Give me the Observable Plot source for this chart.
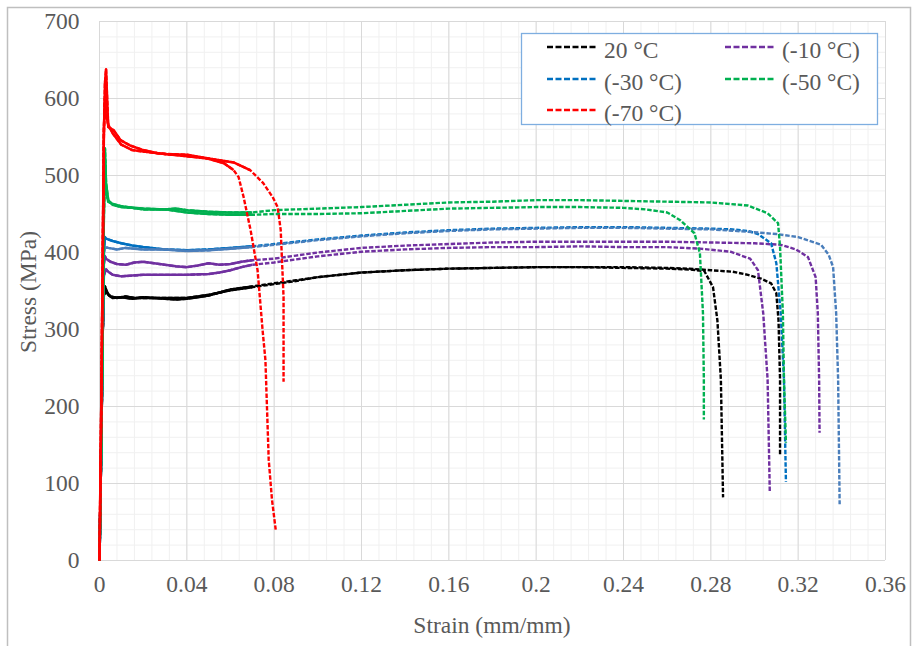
<!DOCTYPE html>
<html>
<head>
<meta charset="utf-8">
<script src="https://cdn.jsdelivr.net/npm/d3@7"></script>
<script src="https://cdn.jsdelivr.net/npm/@observablehq/plot@0.6"></script>
<style>
  html, body { margin: 0; padding: 0; background: #ffffff; }
  #chart { width: 915px; height: 646px; overflow: hidden; }
</style>
</head>
<body>
<div id="chart"></div>
<script>
// ---------- data ----------
const xTicks = [0, 0.04, 0.08, 0.12, 0.16, 0.2, 0.24, 0.28, 0.32, 0.36];
const xTickLabels = ["0", "0.04", "0.08", "0.12", "0.16", "0.2", "0.24", "0.28", "0.32", "0.36"];
const yTicks = [0, 100, 200, 300, 400, 500, 600, 700];
const yTickLabels = ["0", "100", "200", "300", "400", "500", "600", "700"];

const legendLabels = ["20 °C", "(-10 °C)", "(-30 °C)", "(-50 °C)", "(-70 °C)"];

const black1 = [[0,0],[0.0008,150],[0.0015,300],[0.002,350],[0.0025,356],[0.003,352],[0.004,345],[0.006,341],[0.01,342],[0.015,340],[0.02,342],[0.025,341],[0.03,340],[0.035,339],[0.04,340],[0.045,342],[0.05,344],[0.055,348],[0.06,351],[0.07,355],[0.08,359],[0.09,363],[0.1,368],[0.12,374],[0.14,377],[0.16,379],[0.18,380],[0.2,381],[0.22,381],[0.24,380],[0.26,379],[0.27,378],[0.277,376],[0.281,355],[0.283,312],[0.2846,235],[0.2856,82]];
const black2 = [[0,0],[0.0008,150],[0.0015,300],[0.002,345],[0.003,349],[0.005,343],[0.008,341],[0.012,343],[0.016,341],[0.02,341],[0.03,341],[0.04,341],[0.045,343],[0.05,345],[0.055,348],[0.06,352],[0.07,356],[0.08,360],[0.09,364],[0.1,368],[0.12,374],[0.14,377],[0.16,379],[0.18,380],[0.2,381],[0.22,381],[0.24,381],[0.26,380],[0.27,379],[0.28,377],[0.29,375],[0.297,371],[0.303,366],[0.3076,360],[0.31,347],[0.311,312],[0.3117,235],[0.3117,137]];

const purple1 = [[0,0],[0.0008,150],[0.0015,300],[0.002,385],[0.0025,395],[0.003,392],[0.005,388],[0.008,385],[0.012,384],[0.016,387],[0.02,388],[0.025,386],[0.03,384],[0.035,382],[0.04,381],[0.045,383],[0.05,386],[0.055,384],[0.06,385],[0.065,388],[0.07,390],[0.075,391],[0.08,392],[0.09,396],[0.1,400],[0.12,406],[0.14,409],[0.16,411],[0.18,413],[0.2,414],[0.22,414],[0.24,414],[0.26,414],[0.28,413],[0.3,412],[0.312,410],[0.319,404],[0.3245,394],[0.328,368],[0.329,321],[0.3296,235],[0.3298,166]];
const purple2 = [[0,0],[0.0008,150],[0.0015,300],[0.002,370],[0.003,378],[0.004,375],[0.006,371],[0.01,369],[0.015,370],[0.02,371],[0.03,371],[0.04,371],[0.05,372],[0.055,374],[0.06,377],[0.065,381],[0.07,384],[0.08,387],[0.09,391],[0.1,395],[0.12,401],[0.14,404],[0.16,406],[0.18,407],[0.2,407],[0.22,408],[0.24,407],[0.26,407],[0.275,405],[0.289,401],[0.298,392],[0.3016,377],[0.304,321],[0.306,235],[0.307,89]];

const blue1 = [[0,0],[0.0008,150],[0.0015,300],[0.002,400],[0.0025,420],[0.003,418],[0.006,415],[0.01,412],[0.015,409],[0.02,407],[0.03,404],[0.04,403],[0.05,404],[0.06,406],[0.07,408],[0.08,411],[0.09,414],[0.1,417],[0.12,422],[0.14,426],[0.16,429],[0.18,431],[0.2,432],[0.22,433],[0.24,433],[0.26,432],[0.28,431],[0.29,430],[0.297,428],[0.3016,424],[0.3076,412],[0.31,386],[0.312,321],[0.3135,235],[0.3144,102]];
const blue2 = [[0,0],[0.0008,150],[0.0015,300],[0.002,400],[0.0025,407],[0.004,406],[0.008,404],[0.012,406],[0.016,405],[0.02,404],[0.03,404],[0.04,402],[0.05,403],[0.06,405],[0.07,407],[0.08,410],[0.09,413],[0.1,416],[0.12,421],[0.14,425],[0.16,428],[0.18,430],[0.2,431],[0.22,432],[0.24,432],[0.26,431],[0.28,430],[0.297,427],[0.31,424],[0.32,420],[0.3305,410],[0.334,397],[0.336,381],[0.3374,321],[0.3383,235],[0.339,73]];

const green1 = [[0,0],[0.0008,150],[0.0015,300],[0.002,450],[0.0025,535],[0.003,490],[0.004,468],[0.006,462],[0.01,459],[0.015,458],[0.02,457],[0.03,456],[0.035,457],[0.04,455],[0.05,453],[0.06,452],[0.07,452],[0.08,455],[0.09,456],[0.1,457],[0.12,459],[0.14,462],[0.16,465],[0.18,466],[0.2,468],[0.22,468],[0.24,467],[0.26,466],[0.28,465],[0.297,461],[0.306,451],[0.3108,438],[0.3117,407],[0.313,321],[0.3135,235],[0.3144,153]];
const green2 = [[0,0],[0.0008,150],[0.0015,300],[0.002,450],[0.0025,520],[0.003,480],[0.004,466],[0.006,463],[0.01,460],[0.015,458],[0.02,456],[0.03,456],[0.04,452],[0.05,450],[0.06,449],[0.07,449],[0.08,450],[0.09,450],[0.1,450],[0.12,451],[0.14,454],[0.16,457],[0.18,458],[0.2,459],[0.22,459],[0.24,458],[0.25,456],[0.26,452],[0.266,442],[0.2725,425],[0.275,399],[0.2764,321],[0.2768,235],[0.2768,183]];

const red1 = [[0,0],[0.0008,200],[0.0015,400],[0.002,550],[0.0025,620],[0.003,638],[0.0035,600],[0.004,563],[0.0064,559],[0.0096,546],[0.014,539],[0.02,533],[0.0266,529],[0.04,525],[0.0495,522],[0.057,516],[0.0614,507],[0.0637,498],[0.066,472],[0.0692,429],[0.0724,377],[0.0747,299],[0.076,260],[0.0775,131],[0.079,79],[0.0807,40]];
const red2 = [[0,0],[0.0008,200],[0.0015,400],[0.002,560],[0.0025,600],[0.003,580],[0.004,566],[0.006,555],[0.01,540],[0.015,533],[0.02,531],[0.03,528],[0.04,527],[0.05,522],[0.0614,517],[0.069,507],[0.075,490],[0.0793,472],[0.0816,459],[0.083,429],[0.0843,342],[0.0843,232]];

// ---------- styling ----------
const FONT = '"Liberation Serif", "Times New Roman", "DejaVu Serif", serif';
const TEXT = "#595959";
const FS = 23.5;
const curves = [
  {data: black1, color: "#000000", solidTo: 0.07},
  {data: black2, color: "#000000", solidTo: 0.07},
  {data: purple1, color: "#7030a0", solidTo: 0.07},
  {data: purple2, color: "#7030a0", solidTo: 0.07},
  {data: blue1, color: "#0070c0", solidTo: 0.07},
  {data: blue2, color: "#4a7ebb", solidTo: 0.07},
  {data: green1, color: "#00b050", solidTo: 0.07},
  {data: green2, color: "#00b050", solidTo: 0.07},
  {data: red1, color: "#ff0000", solidTo: 0.062},
  {data: red2, color: "#ff0000", solidTo: 0.07}
];
const legendColors = ["#000000", "#7030a0", "#0070c0", "#00b050", "#ff0000"];

const xMinor = d3.range(0, 46).map(i => +(i * 0.008).toFixed(4)).filter(v => v <= 0.36);
const yMinor = d3.range(0, 36).map(i => i * 20).filter(v => v <= 700);

const curveMarks = curves.flatMap(c => [
  Plot.line(c.data, {x: d => d[0], y: d => d[1], stroke: c.color, strokeWidth: 2.4, strokeDasharray: "4.5,1.8", strokeLinecap: "butt", strokeLinejoin: "round"}),
  Plot.line(c.data.filter(d => d[0] <= c.solidTo), {x: d => d[0], y: d => d[1], stroke: c.color, strokeWidth: 2.5, strokeLinecap: "butt"})
]);

const svg = Plot.plot({
  width: 915,
  height: 646,
  marginLeft: 99,
  marginRight: 30,
  marginTop: 21,
  marginBottom: 86,
  x: {domain: [0, 0.36], axis: null},
  y: {domain: [0, 700], axis: null},
  style: {fontFamily: FONT, fontSize: FS + "px", color: TEXT, background: "#ffffff", overflow: "visible"},
  marks: [
    Plot.ruleX(xMinor, {x: d => d, stroke: "#f0f0f0", strokeWidth: 1}),
    Plot.ruleY(yMinor, {y: d => d, stroke: "#f0f0f0", strokeWidth: 1}),
    Plot.ruleX(xTicks, {x: d => d, stroke: "#d9d9d9", strokeWidth: 1}),
    Plot.ruleY(yTicks, {y: d => d, stroke: "#d9d9d9", strokeWidth: 1}),
    ...curveMarks,
    Plot.text(xTicks, {x: d => d, frameAnchor: "bottom", dy: 31, text: (d, i) => xTickLabels[i], fill: TEXT, fontSize: FS, fontFamily: "Liberation Serif"}),
    Plot.text(yTicks, {y: d => d, frameAnchor: "left", dx: -20, textAnchor: "end", text: (d, i) => yTickLabels[i], fill: TEXT, fontSize: FS, fontFamily: "Liberation Serif"})
  ]
});

document.getElementById("chart").appendChild(svg);

const s = d3.select(svg);
// outer chart border
s.append("rect").attr("x", 7.5).attr("y", 7.5).attr("width", 903).attr("height", 660)
  .attr("fill", "none").attr("stroke", "#bfbfbf").attr("stroke-width", 1.5);

// axis titles
s.append("text").attr("x", 492).attr("y", 625).attr("text-anchor", "middle").attr("dy", "0.32em")
  .attr("fill", TEXT).style("font-family", FONT).style("font-size", FS + "px").text("Strain (mm/mm)");
s.append("text").attr("transform", "translate(28,292) rotate(-90)").attr("text-anchor", "middle").attr("dy", "0.32em")
  .attr("fill", TEXT).style("font-family", FONT).style("font-size", FS + "px").text("Stress (MPa)");

// legend
const lg = s.append("g");
lg.append("rect").attr("x", 521.5).attr("y", 33.5).attr("width", 356).attr("height", 91)
  .attr("fill", "#ffffff").attr("stroke", "#7eaee0").attr("stroke-width", 1.3);
const slots = [
  {lx: 547, ly: 47}, {lx: 725, ly: 47},
  {lx: 547, ly: 79}, {lx: 725, ly: 79},
  {lx: 547, ly: 110}
];
// order: 20, -10, -30, -50, -70
legendLabels.forEach((lab, i) => {
  const p = slots[i];
  lg.append("line").attr("x1", p.lx).attr("x2", p.lx + 50).attr("y1", p.ly).attr("y2", p.ly)
    .attr("stroke", legendColors[i]).attr("stroke-width", 2.4).attr("stroke-dasharray", "6,2.5")
    .attr("stroke-linecap", "butt");
  lg.append("text").attr("x", p.lx + 57).attr("y", p.ly + 3).attr("dy", "0.32em")
    .attr("text-anchor", "start")
    .attr("fill", TEXT).style("font-family", FONT).style("font-size", FS + "px").text(lab);
});
</script>
</body>
</html>
